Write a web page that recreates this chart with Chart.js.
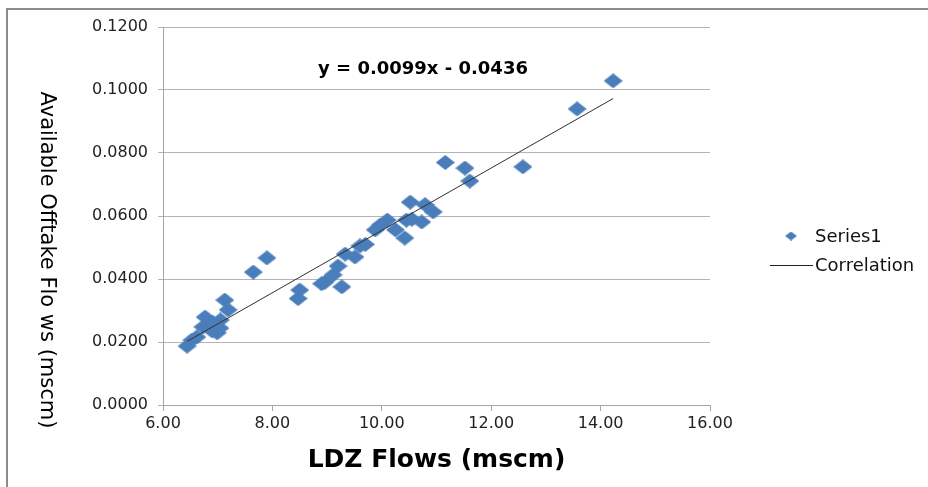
<!DOCTYPE html>
<html>
<head>
<meta charset="utf-8">
<title>LDZ Flows vs Available Offtake Flows</title>
<script src="https://cdn.jsdelivr.net/npm/chart.js@4.4.0/dist/chart.umd.min.js"></script>
<style>
    html, body { margin: 0; padding: 0; background: #fff; }
    #wrap { width: 928px; height: 487px; }
</style>
</head>
<body>
<div id="wrap"><canvas id="flow-chart" width="928" height="487"></canvas></div>
<script>
// Data
const ldzFlows = [6.44, 6.53, 6.62, 6.73, 6.77, 6.90, 6.90, 6.99, 7.04, 7.05, 7.13, 7.19, 7.65, 7.90,
    8.47, 8.50, 8.90, 8.96, 9.11, 9.20, 9.27, 9.33, 9.51, 9.60, 9.70, 9.88, 9.97, 10.10, 10.25,
    10.42, 10.45, 10.55, 10.73, 10.52, 10.79, 10.94, 11.16, 11.52, 11.61, 12.58, 13.57, 14.23];
const offtakeFlows = [0.0187, 0.0206, 0.0216, 0.0248, 0.0279, 0.0263, 0.0235, 0.0229, 0.0244, 0.0270,
    0.0333, 0.0302, 0.0422, 0.0467, 0.0338, 0.0365, 0.0385, 0.0390, 0.0413, 0.0441, 0.0375, 0.0479,
    0.0470, 0.0505, 0.0510, 0.0556, 0.0571, 0.0587, 0.0556, 0.0530, 0.0587, 0.0590, 0.0581, 0.0644,
    0.0636, 0.0613, 0.0770, 0.0752, 0.0711, 0.0756, 0.0940, 0.1029];
const trendX = [6.44, 14.23];
const trendY = [0.0202, 0.0973];
const xTicks = [6, 8, 10, 12, 14, 16];
const yTicks = [0, 0.02, 0.04, 0.06, 0.08, 0.10, 0.12];
const seriesNames = ['Series1', 'Correlation'];
const equationText = 'y = 0.0099x - 0.0436';

const FONT = 'DejaVu Sans';
const BLUE = '#4a7ebb';

// Diamond marker drawn on a small canvas
function makeDiamond(w, h) {
    const c = document.createElement('canvas');
    c.width = w;
    c.height = h;
    const g = c.getContext('2d');
    g.fillStyle = BLUE;
    g.beginPath();
    g.moveTo(w / 2, 0);
    g.lineTo(w, h / 2);
    g.lineTo(w / 2, h);
    g.lineTo(0, h / 2);
    g.closePath();
    g.fill();
    return c;
}

// Frame, y title, equation and legend
const decorPlugin = {
    id: 'decor',
    beforeDraw(chart) {
        const ctx = chart.ctx;
        ctx.save();
        ctx.fillStyle = '#fff';
        ctx.fillRect(0, 0, chart.width, chart.height);
        ctx.strokeStyle = '#8c8c8c';
        ctx.lineWidth = 2;
        ctx.beginPath();
        ctx.moveTo(7, chart.height);
        ctx.lineTo(7, 9);
        ctx.lineTo(chart.width, 9);
        ctx.stroke();
        ctx.restore();
    },
    afterDraw(chart) {
        const ctx = chart.ctx;
        ctx.save();
        // y axis title, reading top to bottom
        ctx.translate(46, 260);
        ctx.rotate(Math.PI / 2);
        ctx.fillStyle = '#000';
        ctx.font = `21px "${FONT}"`;
        ctx.textAlign = 'center';
        ctx.textBaseline = 'middle';
        ctx.fillText('Available Offtake Flo ws (mscm)', 0, 0);
        ctx.restore();

        ctx.save();
        ctx.fillStyle = '#000';
        ctx.font = `bold 18px "${FONT}"`;
        ctx.textAlign = 'center';
        ctx.textBaseline = 'middle';
        ctx.fillText(equationText, 423, 69);

        // legend
        ctx.font = `18px "${FONT}"`;
        ctx.textAlign = 'left';
        ctx.fillStyle = '#111';
        const small = makeDiamond(12, 9);
        ctx.drawImage(small, 791 - 6, 236 - 4.5);
        ctx.fillText(seriesNames[0], 815, 237);
        ctx.strokeStyle = '#222';
        ctx.lineWidth = 1;
        ctx.beginPath();
        ctx.moveTo(770, 265.5);
        ctx.lineTo(813, 265.5);
        ctx.stroke();
        ctx.fillText(seriesNames[1], 815, 266);
        ctx.restore();
    }
};

// Initialize Chart
function initializeChart() {
    const ctx = document.getElementById('flow-chart').getContext('2d');
    const points = ldzFlows.map((x, i) => ({ x: x, y: offtakeFlows[i] }));
    const trend = trendX.map((x, i) => ({ x: x, y: trendY[i] }));

    new Chart(ctx, {
        type: 'scatter',
        data: {
            datasets: [{
                label: seriesNames[1],
                data: trend,
                showLine: true,
                borderColor: '#303030',
                borderWidth: 1,
                pointRadius: 0,
                order: 0,
            }, {
                label: seriesNames[0],
                data: points,
                pointStyle: makeDiamond(19, 15),
                pointRadius: 9,
                backgroundColor: BLUE,
                borderWidth: 0,
                order: 1,
            }],
        },
        options: {
            responsive: false,
            animation: false,
            layout: { padding: { left: 90, right: 218, top: 27, bottom: 10 } },
            plugins: {
                legend: { display: false },
                tooltip: { enabled: false },
            },
            scales: {
                x: {
                    type: 'linear',
                    min: 6,
                    max: 16,
                    afterBuildTicks: s => { s.ticks = xTicks.map(v => ({ value: v })); },
                    afterFit: s => { s.height = 72; },
                    ticks: {
                        callback: v => v.toFixed(2),
                        font: { family: FONT, size: 16 },
                        color: '#222',
                        padding: 3,
                    },
                    grid: { drawOnChartArea: false, drawTicks: true, tickLength: 6, color: '#a6a6a6' },
                    border: { color: '#a6a6a6' },
                    title: {
                        display: true,
                        text: 'LDZ Flows (mscm)',
                        font: { family: FONT, size: 25, weight: 'bold' },
                        color: '#000',
                        padding: { top: 0, bottom: 2 },
                    },
                },
                y: {
                    type: 'linear',
                    min: 0,
                    max: 0.12,
                    afterBuildTicks: s => { s.ticks = yTicks.map(v => ({ value: v })); },
                    afterFit: s => { s.width = 73; },
                    ticks: {
                        callback: v => v.toFixed(4),
                        font: { family: FONT, size: 16 },
                        color: '#222',
                        padding: 10,
                    },
                    grid: { color: '#b4b4b4', tickLength: 5 },
                    border: { color: '#a6a6a6' },
                },
            },
        },
        plugins: [decorPlugin],
    });
}

// Initialize
document.addEventListener('DOMContentLoaded', () => {
    initializeChart();
});
</script>
</body>
</html>
